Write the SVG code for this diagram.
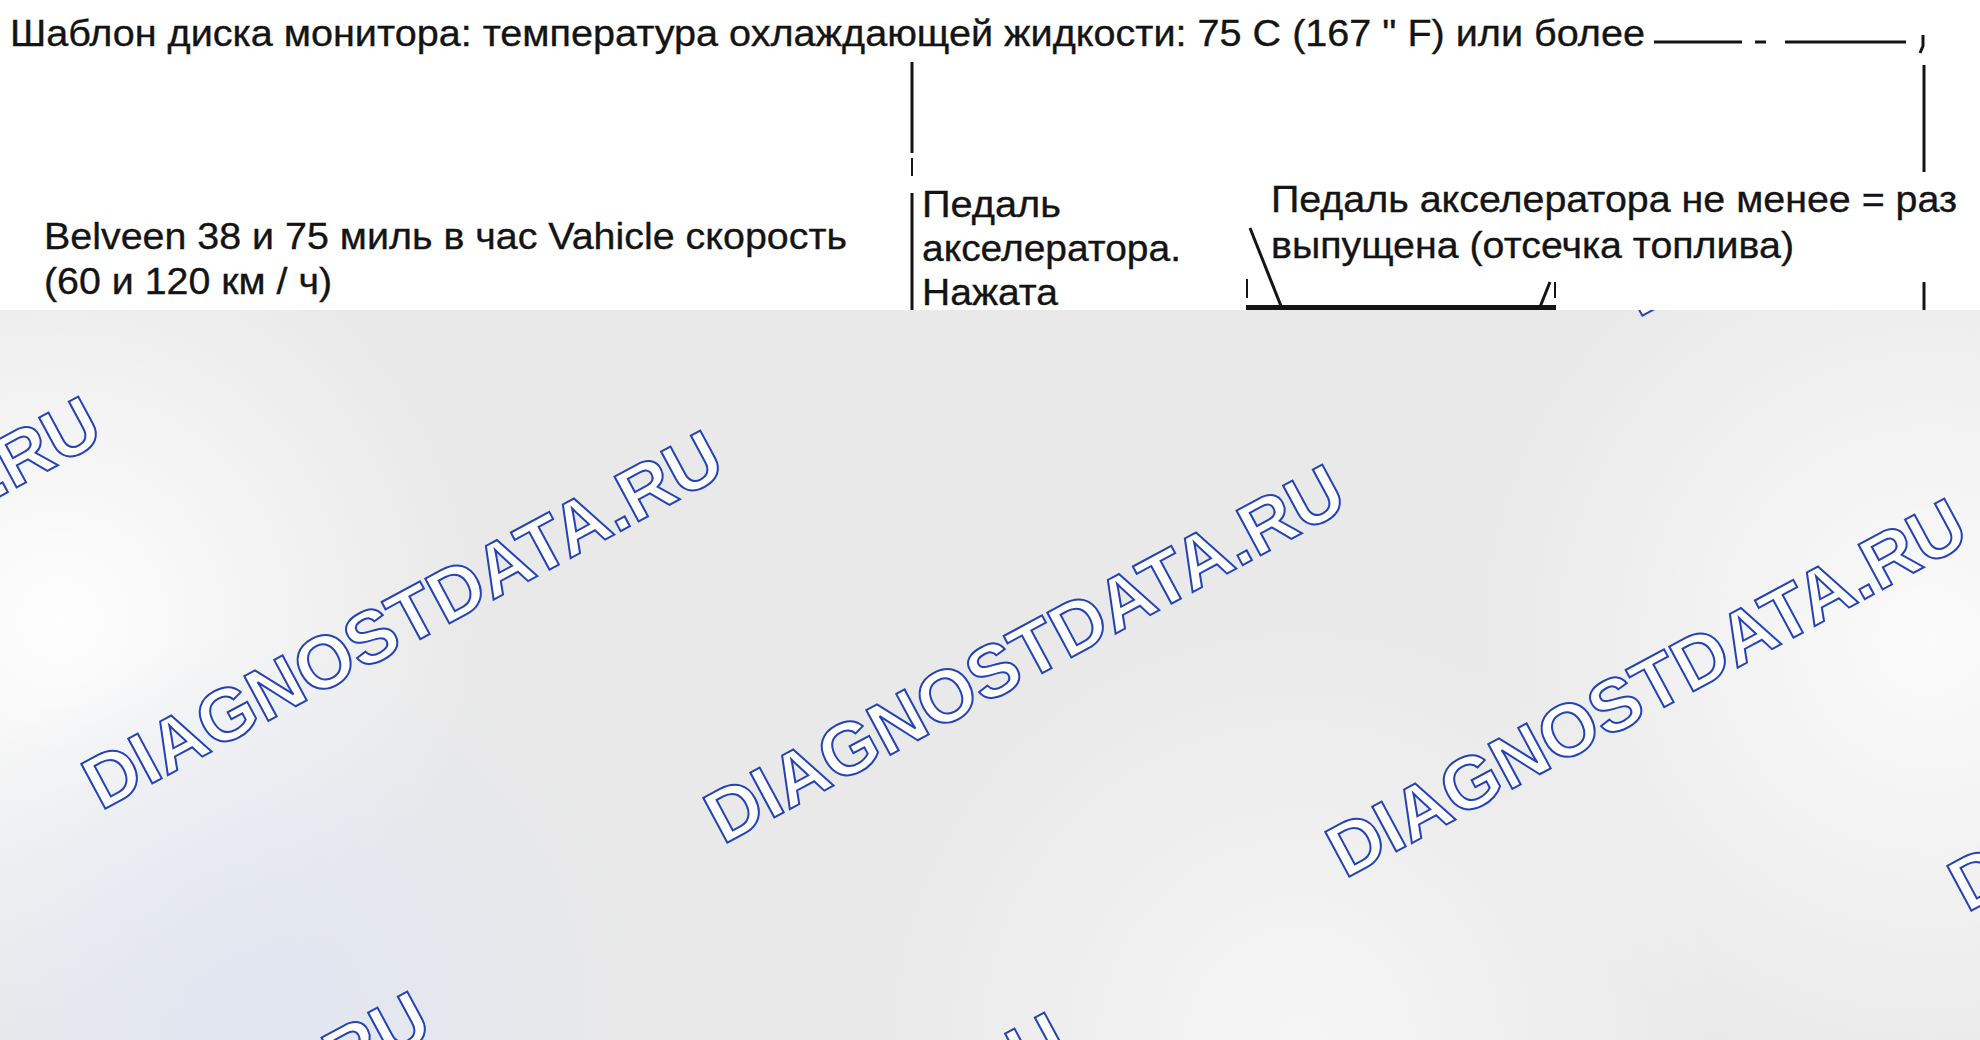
<svg xmlns="http://www.w3.org/2000/svg" width="1980" height="1040" viewBox="0 0 1980 1040">
<defs>
<style>
.t{font-family:"Liberation Sans",Arial,sans-serif;font-size:37px;fill:#141414;stroke:#141414;stroke-width:0.35}
.wm{font-family:"Liberation Sans",Arial,sans-serif;font-weight:bold;font-size:74px;fill:#ffffff;stroke:#2443b5;stroke-width:2}
.ln{stroke:#141414;stroke-width:3;fill:none}
.thin{stroke:#141414;stroke-width:2;fill:none}
</style>
<radialGradient id="gL" cx="60" cy="620" r="420" gradientUnits="userSpaceOnUse">
<stop offset="0" stop-color="#ffffff" stop-opacity="0.95"/>
<stop offset="1" stop-color="#ffffff" stop-opacity="0"/>
</radialGradient>
<radialGradient id="gR" cx="1930" cy="640" r="460" gradientUnits="userSpaceOnUse">
<stop offset="0" stop-color="#ffffff" stop-opacity="0.8"/>
<stop offset="1" stop-color="#ffffff" stop-opacity="0"/>
</radialGradient>
<radialGradient id="gB" cx="260" cy="1010" r="380" gradientUnits="userSpaceOnUse">
<stop offset="0" stop-color="#e1e6f2" stop-opacity="1"/>
<stop offset="1" stop-color="#e1e6f2" stop-opacity="0"/>
</radialGradient>
<radialGradient id="gBR" cx="1300" cy="1040" r="420" gradientUnits="userSpaceOnUse">
<stop offset="0" stop-color="#f7f7f7" stop-opacity="0.9"/>
<stop offset="1" stop-color="#f7f7f7" stop-opacity="0"/>
</radialGradient>
</defs>
<g id="background">
<rect x="0" y="300" width="1980" height="740" fill="#e9e9e9"/>
<rect x="0" y="300" width="1980" height="740" fill="url(#gL)"/>
<rect x="0" y="300" width="1980" height="740" fill="url(#gR)"/>
<rect x="0" y="300" width="1980" height="740" fill="url(#gB)"/>
<rect x="0" y="300" width="1980" height="740" fill="url(#gBR)"/>
</g>
<g id="watermarks">
<text class="wm" transform="translate(-521,777) rotate(-28.3)">DIAGNOSTDATA.RU</text>
<text class="wm" transform="translate(101,811) rotate(-28.3)">DIAGNOSTDATA.RU</text>
<text class="wm" transform="translate(723,845) rotate(-28.3)">DIAGNOSTDATA.RU</text>
<text class="wm" transform="translate(1345,879) rotate(-28.3)">DIAGNOSTDATA.RU</text>
<text class="wm" transform="translate(1967,913) rotate(-28.3)">DIAGNOSTDATA.RU</text>
<text class="wm" transform="translate(1638,318) rotate(-28.3)">DIAGNOSTDATA.RU</text>
<text class="wm" transform="translate(-192,1372) rotate(-28.3)">DIAGNOSTDATA.RU</text>
<text class="wm" transform="translate(445,1393) rotate(-28.3)">DIAGNOSTDATA.RU</text>
</g>
<rect id="sheet" x="0" y="0" width="1980" height="310" fill="#ffffff"/>
<g id="connectors">
<line class="ln" x1="1654" y1="42" x2="1742" y2="42"/>
<line class="ln" x1="1755" y1="42" x2="1766" y2="42"/>
<line class="ln" x1="1785" y1="42" x2="1906" y2="42"/>
<path class="ln" d="M1923,35 L1923,46 L1920,53"/>
<line class="ln" x1="1924" y1="65" x2="1924" y2="172"/>
<line class="ln" x1="1924" y1="282" x2="1924" y2="310"/>
<line class="ln" x1="912" y1="62" x2="912" y2="153"/>
<line class="thin" x1="912" y1="158" x2="912" y2="176"/>
<line class="ln" x1="912" y1="193" x2="912" y2="310"/>
<line class="ln" x1="1250" y1="228" x2="1281" y2="306"/>
<line class="thin" x1="1247" y1="279" x2="1247" y2="298"/>
<line stroke="#141414" stroke-width="5" x1="1246" y1="307.5" x2="1556" y2="307.5"/>
<line class="ln" x1="1550" y1="282" x2="1540" y2="307"/>
<line class="thin" x1="1555" y1="282" x2="1555" y2="298"/>
</g>
<g id="title">
<text class="t" x="10" y="46" textLength="1635" lengthAdjust="spacingAndGlyphs">Шаблон диска монитора: температура охлаждающей жидкости: 75 C (167 " F) или более</text>
</g>
<g id="node-speed">
<text class="t" x="44" y="249" textLength="803" lengthAdjust="spacingAndGlyphs">Belveen 38 и 75 миль в час Vahicle скорость</text>
<text class="t" x="44" y="294" textLength="288" lengthAdjust="spacingAndGlyphs">(60 и 120 км / ч)</text>
</g>
<g id="node-pressed">
<text class="t" x="922" y="217" textLength="139" lengthAdjust="spacingAndGlyphs">Педаль</text>
<text class="t" x="922" y="261" textLength="259" lengthAdjust="spacingAndGlyphs">акселератора.</text>
<text class="t" x="922" y="305" textLength="136" lengthAdjust="spacingAndGlyphs">Нажата</text>
</g>
<g id="node-released">
<text class="t" x="1271" y="212" textLength="686" lengthAdjust="spacingAndGlyphs">Педаль акселератора не менее = раз</text>
<text class="t" x="1271" y="258" textLength="523" lengthAdjust="spacingAndGlyphs">выпущена (отсечка топлива)</text>
</g>
</svg>
